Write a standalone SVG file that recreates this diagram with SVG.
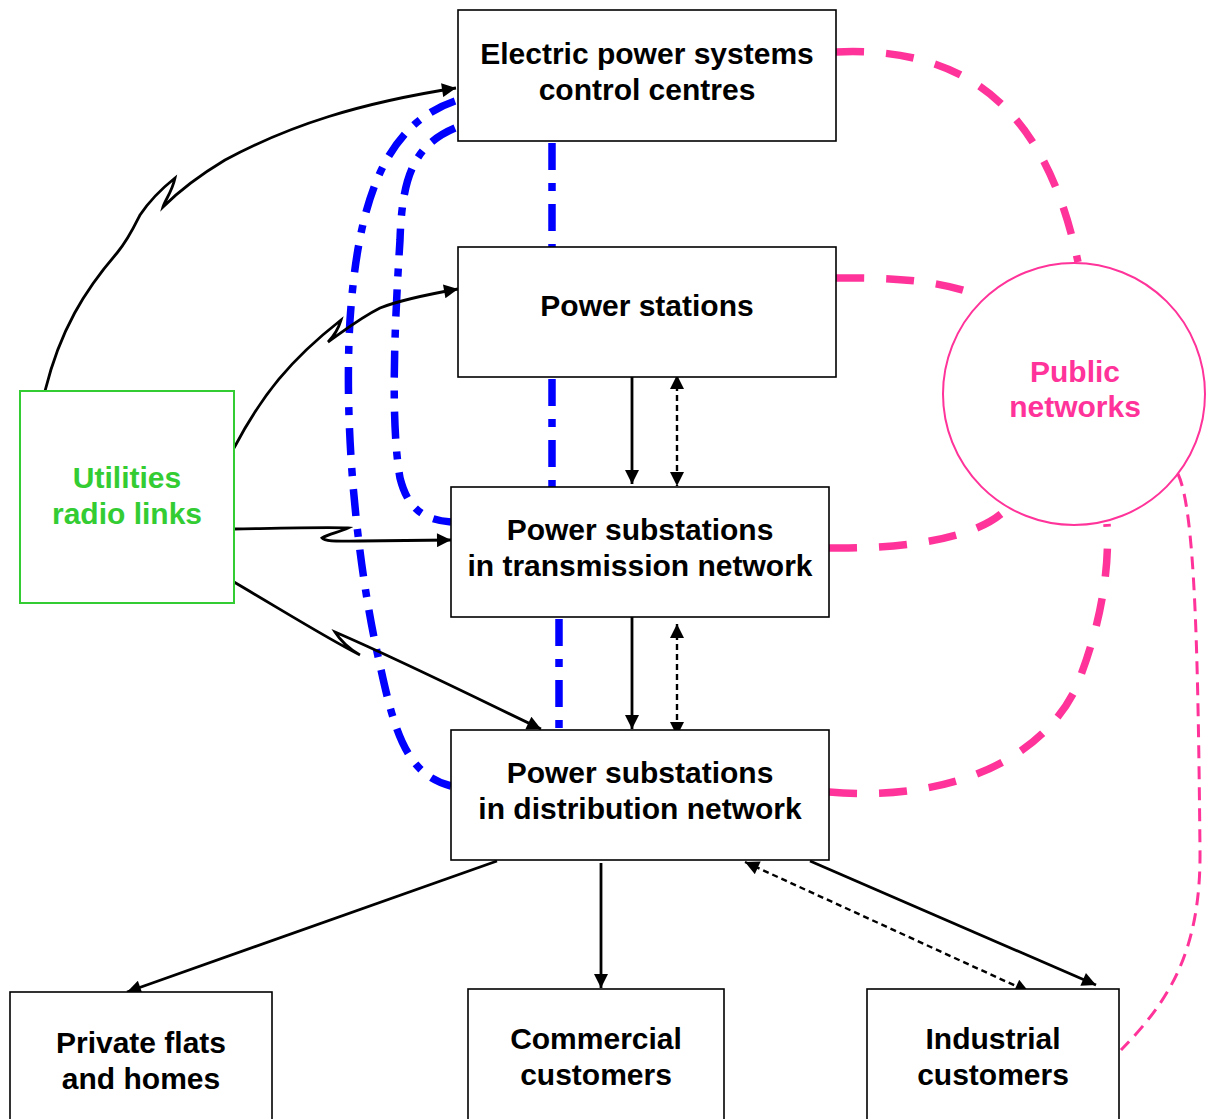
<svg xmlns="http://www.w3.org/2000/svg" width="1206" height="1119" viewBox="0 0 1206 1119">
<style>
.box{fill:#fff;stroke:#000;stroke-width:1.6}
.t{font-family:"Liberation Sans",Arial,sans-serif;font-weight:bold;font-size:30px;text-anchor:middle;fill:#000}
.g{fill:#33cc33}
.p{fill:#ff3399}
.blk{fill:none;stroke:#000;stroke-width:2.8}
.dsh{fill:none;stroke:#000;stroke-width:2.4;stroke-dasharray:6 4}
.blue{fill:none;stroke:#0000ff;stroke-width:7.5;stroke-dasharray:27 13 8 13}
.pink{fill:none;stroke:#ff3399;stroke-width:7.5;stroke-dasharray:28 22}
.pinkthin{fill:none;stroke:#ff3399;stroke-width:3;stroke-dasharray:13 8}
</style>
<defs>
<marker id="ah" viewBox="0 0 10 10" refX="10" refY="5" markerWidth="16" markerHeight="14" markerUnits="userSpaceOnUse" orient="auto-start-reverse">
<path d="M0,0 L10,5 L0,10 z" fill="#000"/>
</marker>
</defs>

<g id="connectors">
<!-- blue dash-dot -->
<line class="blue" x1="552" y1="143" x2="552" y2="247"/>
<line class="blue" x1="552" y1="379" x2="552" y2="487"/>
<line class="blue" x1="559" y1="619" x2="559" y2="730"/>
<path class="blue" d="M455,101 C385,125 358,200 350,320 C343,440 360,580 380,665 C395,735 408,775 451,786"/>
<path class="blue" d="M455,128 C415,145 402,175 400,240 C395,320 390,420 400,478 C408,510 425,520 451,522"/>
<!-- pink dashed -->
<path class="pink" d="M836,52 C985,45 1050,130 1078,262"/>
<path class="pink" d="M836,278 C900,277 940,282 972,293"/>
<path class="pink" d="M829,548 C900,549 982,540 1010,505"/>
<path class="pink" d="M829,792 C950,802 1040,760 1075,690 C1100,630 1110,570 1107,524"/>
<path class="pinkthin" d="M1178,474 C1195,510 1198,650 1200,850 C1201,950 1170,1000 1121,1050"/>
<!-- radio links -->
<path class="blk" marker-end="url(#ah)" d="M45,391 C60,330 85,290 117,253 C128,240 135,225 140,215 C150,200 160,190 175,178 C172,192 165,200 163,207 C180,190 200,175 225,160 C290,125 360,103 456,88"/>
<path class="blk" marker-end="url(#ah)" d="M234,448 C262,395 290,360 341,320 C338,330 332,338 328,342 C345,330 360,318 380,308 C400,300 430,294 458,289"/>
<path class="blk" marker-end="url(#ah)" d="M234,529 C290,528 330,527 348,528 C340,532 328,534 322,538 C325,542 340,541 360,541 L451,540"/>
<path class="blk" marker-end="url(#ah)" d="M234,582 C290,615 330,640 360,655 C350,650 340,640 335,632 C400,660 470,695 541,729"/>
<!-- vertical flows -->
<line class="blk" marker-end="url(#ah)" x1="632" y1="373" x2="632" y2="484"/>
<line class="dsh" marker-start="url(#ah)" marker-end="url(#ah)" x1="677" y1="375" x2="677" y2="486"/>
<line class="blk" marker-end="url(#ah)" x1="632" y1="617" x2="632" y2="729"/>
<line class="dsh" marker-start="url(#ah)" marker-end="url(#ah)" x1="677" y1="624" x2="677" y2="736"/>
<!-- to customers -->
<line class="blk" marker-end="url(#ah)" x1="497" y1="861" x2="127" y2="992"/>
<line class="blk" marker-end="url(#ah)" x1="601" y1="863" x2="601" y2="988"/>
<line class="blk" marker-end="url(#ah)" x1="810" y1="861" x2="1096" y2="985"/>
<line class="dsh" marker-start="url(#ah)" marker-end="url(#ah)" x1="745" y1="862" x2="1029" y2="992"/>
</g>

<g id="control-centres">
<rect class="box" x="458" y="10" width="378" height="131"/>
<text class="t" x="647" y="64">Electric power systems</text>
<text class="t" x="647" y="100">control centres</text>
</g>
<g id="power-stations">
<rect class="box" x="458" y="247" width="378" height="130"/>
<text class="t" x="647" y="316">Power stations</text>
</g>
<g id="transmission">
<rect class="box" x="451" y="487" width="378" height="130"/>
<text class="t" x="640" y="540">Power substations</text>
<text class="t" x="640" y="576">in transmission network</text>
</g>
<g id="distribution">
<rect class="box" x="451" y="730" width="378" height="130"/>
<text class="t" x="640" y="783">Power substations</text>
<text class="t" x="640" y="819">in distribution network</text>
</g>
<g id="private">
<rect class="box" x="10" y="992" width="262" height="140"/>
<text class="t" x="141" y="1053">Private flats</text>
<text class="t" x="141" y="1089">and homes</text>
</g>
<g id="commercial">
<rect class="box" x="468" y="989" width="256" height="140"/>
<text class="t" x="596" y="1049">Commercial</text>
<text class="t" x="596" y="1085">customers</text>
</g>
<g id="industrial">
<rect class="box" x="867" y="989" width="252" height="140"/>
<text class="t" x="993" y="1049">Industrial</text>
<text class="t" x="993" y="1085">customers</text>
</g>
<g id="radio-links">
<rect x="20" y="391" width="214" height="212" fill="#fff" stroke="#33cc33" stroke-width="2"/>
<text class="t g" x="127" y="488">Utilities</text>
<text class="t g" x="127" y="524">radio links</text>
</g>
<g id="public-networks">
<circle cx="1074" cy="394" r="131" fill="#fff" stroke="#ff3399" stroke-width="2"/>
<text class="t p" x="1075" y="382">Public</text>
<text class="t p" x="1075" y="417">networks</text>
</g>
</svg>
